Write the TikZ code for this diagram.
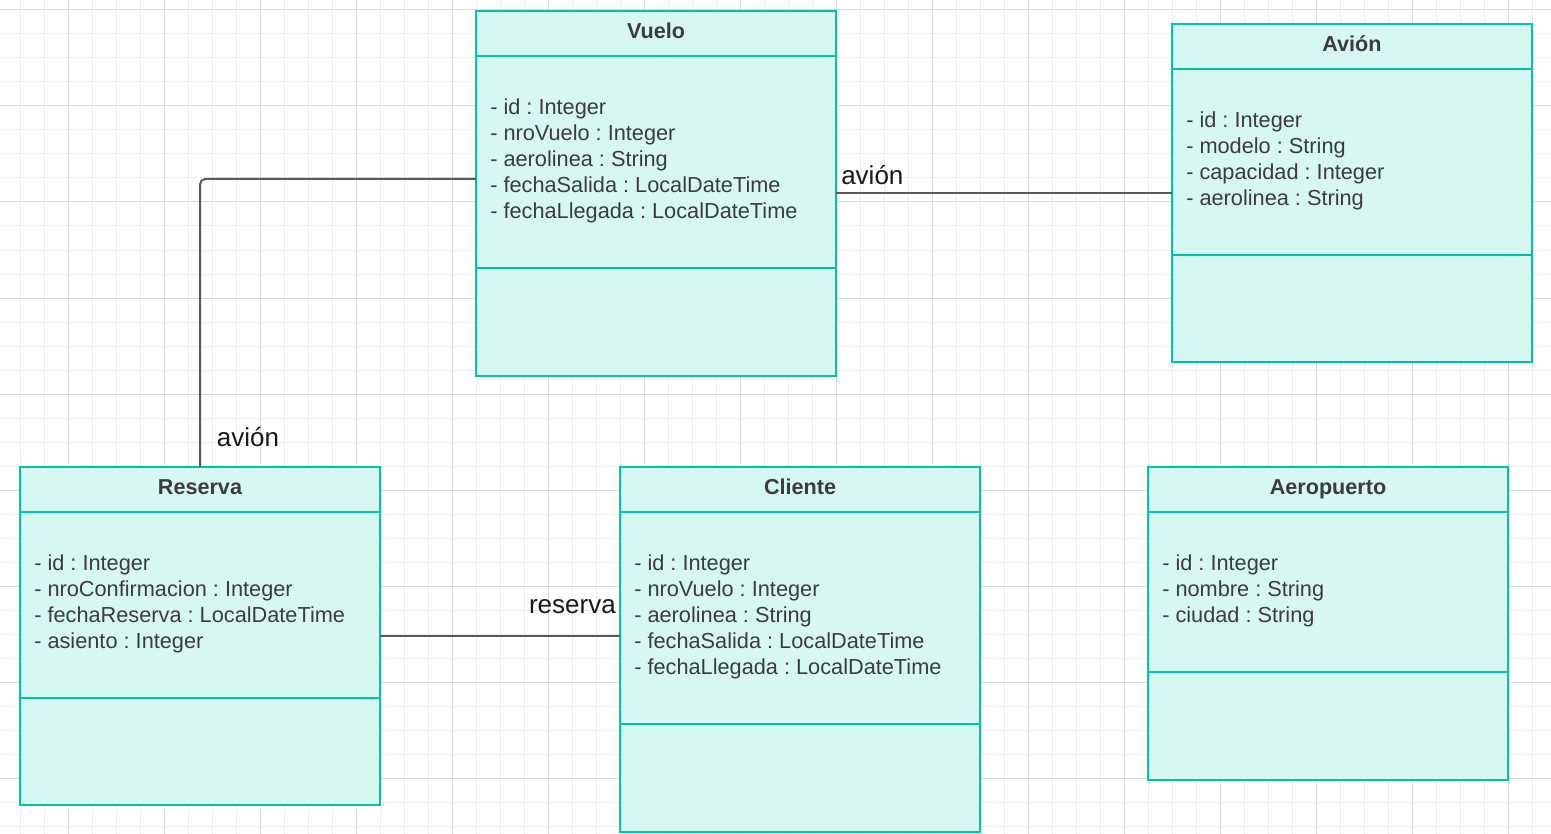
\documentclass[tikz,border=0pt]{standalone}
\usepackage{fontspec}
\setmainfont{Liberation Sans}
\frenchspacing
\definecolor{bord}{RGB}{0,196,167}
\definecolor{fillc}{RGB}{215,248,242}
\definecolor{txt}{RGB}{60,60,60}
\definecolor{conn}{RGB}{90,90,90}
\definecolor{labc}{RGB}{25,25,25}
\definecolor{gridminor}{RGB}{236,236,236}
\definecolor{gridmajor}{RGB}{218,218,218}
\tikzset{
  classbox/.style={draw=bord, fill=fillc, line width=1.6pt, inner sep=0pt, outer sep=0pt, rectangle},
  bordline/.style={draw=bord, line width=1.6pt},
  titletext/.style={font=\fontsize{16.2}{18}\selectfont\bfseries, text=txt, inner sep=0pt, anchor=base},
  attrtext/.style={font=\fontsize{16.3}{19.5}\selectfont, text=txt, align=left, inner sep=0pt},
  connector/.style={draw=conn, line width=1.5pt, rounded corners=4pt},
  assoclabel/.style={font=\fontsize{19.5}{22}\selectfont, text=labc, inner sep=0pt}
}
\newcommand\umlclass[9]{%
  \pgfmathsetmacro\cw{(#4-#2)*0.75}%
  \pgfmathsetmacro\ch{(#5-#3)*0.75}%
  \node[classbox, anchor=north west, minimum width=\cw pt, minimum height=\ch pt] (#1) at (#2,#3) {};
  \draw[bordline] (#2,#6) -- (#4,#6);
  \draw[bordline] (#2,#7) -- (#4,#7);
  \node[titletext] (#1-title) at ({(#2+#4)/2},{(#3+#6)/2+5}) {#8};
  \node[attrtext, anchor=west] (#1-attrs) at (#2+14,{(#6+#7)/2-1}) {#9};
}
\begin{document}
\begin{tikzpicture}[x=0.75pt,y=-0.75pt]
\fill[white] (0,0) rectangle (1551,834);
\useasboundingbox (0,0) rectangle (1551,834);
\foreach \x in {20,44,...,1550} \draw[gridminor, line width=0.75pt] (\x,0) -- (\x,834);
\foreach \y in {10,34,...,834} \draw[gridminor, line width=0.75pt] (0,\y) -- (1551,\y);
\foreach \x in {68,164,...,1550} \draw[gridmajor, line width=0.75pt] (\x,0) -- (\x,834);
\foreach \y in {10,106,...,834} \draw[gridmajor, line width=0.75pt] (0,\y) -- (1551,\y);

\umlclass{vuelo}{476}{11}{836}{376}{56}{268}{Vuelo}{- id : Integer\\- nroVuelo : Integer\\- aerolinea : String\\- fechaSalida : LocalDateTime\\- fechaLlegada : LocalDateTime}
\umlclass{avion}{1172}{24}{1532}{362}{69}{255}{Avión}{- id : Integer\\- modelo : String\\- capacidad : Integer\\- aerolinea : String}
\umlclass{reserva}{20}{467}{380}{805}{512}{698}{Reserva}{- id : Integer\\- nroConfirmacion : Integer\\- fechaReserva : LocalDateTime\\- asiento : Integer}
\umlclass{cliente}{620}{467}{980}{832}{512}{724}{Cliente}{- id : Integer\\- nroVuelo : Integer\\- aerolinea : String\\- fechaSalida : LocalDateTime\\- fechaLlegada : LocalDateTime}
\umlclass{aeropuerto}{1148}{467}{1508}{780}{512}{672}{Aeropuerto}{- id : Integer\\- nombre : String\\- ciudad : String}

\draw[connector] ([yshift=10.9pt]vuelo.west) -| (reserva.north);
\draw[connector] (vuelo.east) -- (vuelo.east -| avion.west);
\draw[connector] (reserva.east) -- (reserva.east -| cliente.west);

\node[assoclabel, anchor=west] (lab1) at (841,175) {avión};
\node[assoclabel] (lab2) at (248,437) {avión};
\node[assoclabel, anchor=east] (lab3) at (616,607) {reserva};
\end{tikzpicture}
\end{document}
